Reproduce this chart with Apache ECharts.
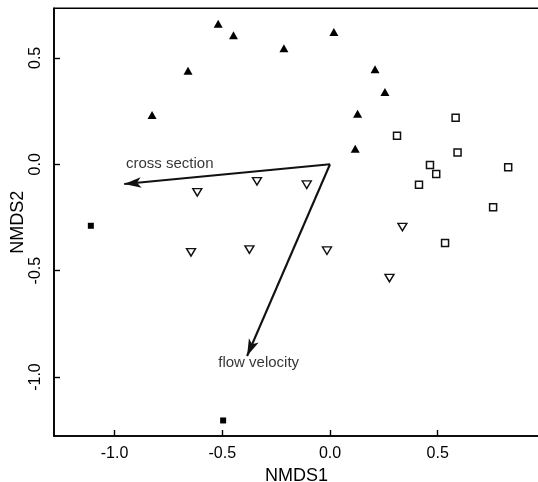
<!DOCTYPE html>
<html>
<head>
<meta charset="utf-8">
<script src="https://cdn.jsdelivr.net/npm/echarts@6/dist/echarts.min.js"></script>
<style>
html, body { margin: 0; padding: 0; background: #fff; }
#main { width: 538px; height: 482px; }
</style>
</head>
<body>
<div id="main"></div>
<script>
// site scores
var filledTriangles = [
    [-0.519, 0.660], [-0.448, 0.606], [-0.659, 0.439], [-0.214, 0.545], [0.018, 0.622],
    [-0.826, 0.232], [0.209, 0.447], [0.255, 0.340], [0.128, 0.238], [0.117, 0.073]
];
var openSquares = [
    [0.583, 0.219], [0.311, 0.134], [0.592, 0.055], [0.464, -0.003], [0.493, -0.046],
    [0.413, -0.096], [0.827, -0.014], [0.757, -0.202], [0.534, -0.370]
];
var openTriangles = [
    [-0.616, -0.132], [-0.339, -0.080], [-0.108, -0.096], [-0.645, -0.414],
    [-0.374, -0.401], [-0.014, -0.406], [0.336, -0.295], [0.276, -0.535]
];
var filledSquares = [[-1.110, -0.289], [-0.496, -1.204]];

// environmental vectors
var vectorNames = ['cross section', 'flow velocity'];
var vectorEnds = [[-0.955, -0.093], [-0.385, -0.901]];
var vectorLabelPos = [[-0.744, 0.002], [-0.331, -0.932]];

var tickValues = [-1.0, -0.5, 0.0, 0.5];

var font = '"Liberation Sans", Arial, Helvetica, sans-serif';
// arrow head: tip sits at the centre of the symbol box
var arrowHead = 'path://M-16,16 M16,16 M0,-16 M0,0 L5,16 L0,12 L-5,16 Z';

var chart = echarts.init(document.getElementById('main'));

function axisCommon(name, gap, rotate) {
    return {
        type: 'value',
        name: name,
        nameLocation: 'middle',
        nameGap: gap,
        nameMoveOverlap: false,
        nameTextStyle: { fontFamily: font, fontSize: 18, color: '#000' },
        splitLine: { show: false },
        axisLine: { show: true, onZero: false, lineStyle: { color: '#000', width: 1.6 } },
        axisTick: { show: true, inside: true, length: 6, lineStyle: { color: '#000', width: 1.4 }, customValues: tickValues },
        axisLabel: {
            customValues: tickValues,
            rotate: rotate,
            margin: 10,
            fontFamily: font,
            fontSize: 16,
            color: '#000',
            formatter: function (v) { return v.toFixed(1); }
        }
    };
}

var xAxis = axisCommon('NMDS1', 31, 0);
xAxis.min = -1.281;
xAxis.max = 0.970;
var yAxis = axisCommon('NMDS2', 27, 90);
yAxis.nameRotate = 90;
yAxis.min = -1.277;
yAxis.max = 0.733;

option = {
    backgroundColor: '#fff',
    animation: false,
    grid: {
        left: 54, top: 8.3, right: -1, bottom: 46,
        show: true, borderColor: '#000', borderWidth: 1.6,
        containLabel: false, outerBoundsMode: 'none'
    },
    xAxis: xAxis,
    yAxis: yAxis,
    series: [
        {
            type: 'scatter',
            symbolSize: 0,
            silent: true,
            data: [],
            markLine: {
                silent: true,
                animation: false,
                symbol: ['none', arrowHead],
                symbolSize: 34,
                label: { show: false },
                lineStyle: { color: '#111', width: 2.1, type: 'solid', opacity: 1 },
                emphasis: { disabled: true },
                data: vectorEnds.map(function (e) {
                    return [{ coord: [0, 0] }, { coord: e }];
                })
            }
        },
        {
            type: 'scatter',
            symbol: 'triangle',
            symbolSize: [9, 8],
            itemStyle: { color: '#000', opacity: 1 },
            data: filledTriangles
        },
        {
            type: 'scatter',
            symbol: 'rect',
            symbolSize: 7,
            itemStyle: { color: '#fff', borderColor: '#111', borderWidth: 1.5, opacity: 1 },
            data: openSquares
        },
        {
            type: 'scatter',
            symbol: 'triangle',
            symbolRotate: 180,
            symbolSize: [9, 7.5],
            itemStyle: { color: '#fff', borderColor: '#111', borderWidth: 1.4, opacity: 1 },
            data: openTriangles
        },
        {
            type: 'scatter',
            symbol: 'rect',
            symbolSize: 6,
            itemStyle: { color: '#000', opacity: 1 },
            data: filledSquares
        },
        {
            type: 'scatter',
            symbolSize: 0,
            silent: true,
            label: {
                show: true,
                position: 'inside',
                fontFamily: font,
                fontSize: 15,
                color: '#000',
                textBorderWidth: 0,
                formatter: '{b}'
            },
            data: vectorNames.map(function (n, i) { return { name: n, value: vectorLabelPos[i] }; })
        }
    ]
};
chart.setOption(option);
</script>
</body>
</html>
